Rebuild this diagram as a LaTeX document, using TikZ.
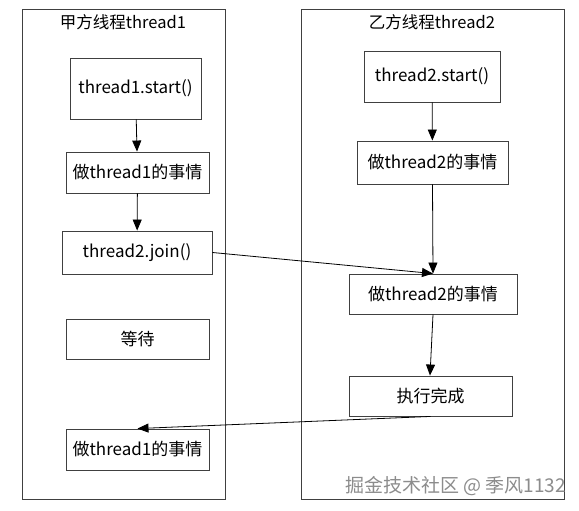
\documentclass[tikz,border=0pt]{standalone}
\usepackage{fontspec}
\setmainfont{Noto Sans CJK SC}
\usetikzlibrary{arrows.meta}
\begin{document}
\begin{tikzpicture}[x=1pt,y=-1pt,
  lane/.style={draw=black!75,line width=0.9pt},
  stepbox/.style={draw=black!75,line width=0.9pt,minimum height=#1,inner sep=0pt,font=\fontsize{17}{20}\selectfont},
  conn/.style={draw=black,line width=0.8pt,-{Triangle[length=11pt,width=9pt]}},
  ttl/.style={font=\fontsize{16.5}{19}\selectfont,inner sep=0pt}]
\useasboundingbox (0,0) rectangle (579,511);
\fill[white] (0,0) rectangle (579,511);
% lanes
\draw[lane] (22,9) rectangle (225,499);
\draw[lane] (301,9) rectangle (564,499);
\node[ttl] (t1) at (123,22) {甲方线程thread1};
\node[ttl] (t2) at (432,22) {乙方线程thread2};
% left boxes
\node[stepbox=61pt,minimum width=131pt] (b1) at (135.5,88.5) {thread1.start()};
\node[stepbox=41pt,minimum width=143pt] (b2) at (137.5,172.5) {做thread1的事情};
\node[stepbox=43pt,minimum width=150pt] (b3) at (137,252.5) {thread2.join()};
\node[stepbox=40pt,minimum width=143pt] (b4) at (137.5,339) {等待};
\node[stepbox=41pt,minimum width=143pt] (b5) at (137.5,449.5) {做thread1的事情};
% right boxes
\node[stepbox=51pt,minimum width=136pt] (r1) at (432,76.5) {thread2.start()};
\node[stepbox=43pt,minimum width=151pt] (r2) at (432.5,162.5) {做thread2的事情};
\node[stepbox=40pt,minimum width=168pt] (r3) at (433,294) {做thread2的事情};
\node[stepbox=40pt,minimum width=163pt] (r4) at (430.5,396) {执行完成};
% connectors
\draw[conn] (b1) -- (b2);
\draw[conn] (b2) -- (b3);
\draw[conn] (r1) -- (r2);
\draw[conn] (r2.south) -- (r3.north);
\draw[conn] (b3.east) -- (r3.north);
\draw[conn] (r3.south) -- (r4.north -| 430,0);
\draw[conn] (r4.south) -- (b5.north);
% watermark
\node[font=\fontsize{19}{22}\selectfont,text=black!45,anchor=east,inner sep=0pt] (wm) at (566,486) {掘金技术社区 @ 季风1132};
\end{tikzpicture}
\end{document}
